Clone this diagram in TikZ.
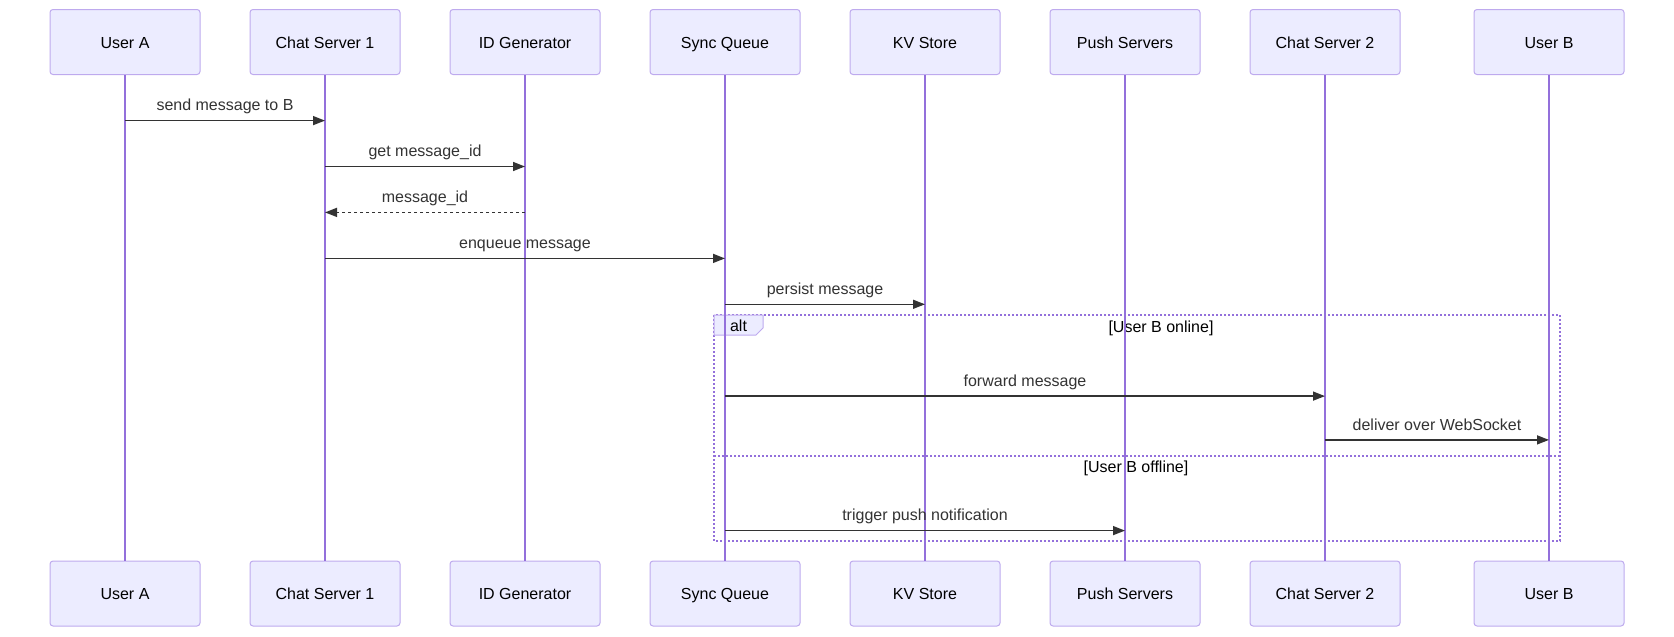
\documentclass[tikz,border=0pt]{standalone}
\usepackage{fontspec}
\setmainfont{Liberation Sans}
\usetikzlibrary{arrows.meta, positioning, calc}

\definecolor{actorfill}{RGB}{236,236,255}
\definecolor{actorline}{RGB}{190,170,238}
\definecolor{lifeline}{RGB}{147,112,219}
\definecolor{msgline}{RGB}{51,51,51}

\tikzset{
	actor/.style={draw=actorline, fill=actorfill, line width=1pt, rounded corners=3pt,
		minimum width=150pt, minimum height=65pt, inner sep=0pt,
		text height=14pt, text depth=1.5pt, font=\fontsize{16}{19}\selectfont},
	life/.style={draw=lifeline, line width=2pt},
	msg/.style={draw=msgline, line width=1.5pt, -{Triangle[length=12pt,width=9pt]}},
	reply/.style={msg, dash pattern=on 3pt off 3pt},
	msglabel/.style={above=5.5pt, inner sep=0pt, text height=12pt, text depth=3.5pt,
		text=msgline, font=\fontsize{16}{19}\selectfont},
	frame/.style={draw=lifeline, line width=1.5pt, dash pattern=on 2pt off 2pt},
	guard/.style={inner sep=0pt, text height=12pt, text depth=3.5pt,
		font=\fontsize{16}{19}\selectfont},
}

\begin{document}
\begin{tikzpicture}[x=1pt, y=-1pt]
		\useasboundingbox (0,0) rectangle (1674,637);

		% Actors (top)
		\node[actor] (ua) at (125,42) {User A};
		\node[actor] (cs1) at (325,42) {Chat Server 1};
		\node[actor] (idg) at (525,42) {ID Generator};
		\node[actor] (sq) at (725,42) {Sync Queue};
		\node[actor] (kv) at (925,42) {KV Store};
		\node[actor] (ps) at (1125,42) {Push Servers};
		\node[actor] (cs2) at (1325,42) {Chat Server 2};
		\node[actor] (ub) at (1549,42) {User B};

		% Actors (bottom)
		\node[actor] (ua2) at (125,593.5) {User A};
		\node[actor] (cs12) at (325,593.5) {Chat Server 1};
		\node[actor] (idg2) at (525,593.5) {ID Generator};
		\node[actor] (sq2) at (725,593.5) {Sync Queue};
		\node[actor] (kv2) at (925,593.5) {KV Store};
		\node[actor] (ps2) at (1125,593.5) {Push Servers};
		\node[actor] (cs22) at (1325,593.5) {Chat Server 2};
		\node[actor] (ub2) at (1549,593.5) {User B};

		% alt frame
		\coordinate (altnw) at (714,315);
		\coordinate (altse) at (1560,541);
		\draw[frame] (altnw) rectangle (altse);
		\draw[frame] (altnw |- 0,456) -- (altse |- 0,456);
		\draw[draw=actorline, fill=actorfill, line width=1pt]
			(altnw) -- ++(49,0) -- ++(0,13) -- ++(-7,7) -- ++(-42,0) -- cycle;
		\node[guard] (alt) at (738.5,327) {alt};
		\node[guard] (online) at (1161,328) {[User B online]};
		\node[guard] (offline) at (1136,468) {[User B offline]};

		% Lifelines
		\draw[life] (ua) -- (ua2);
		\draw[life] (cs1) -- (cs12);
		\draw[life] (idg) -- (idg2);
		\draw[life] (sq) -- (sq2);
		\draw[life] (kv) -- (kv2);
		\draw[life] (ps) -- (ps2);
		\draw[life] (cs2) -- (cs22);
		\draw[life] (ub) -- (ub2);

		% Messages
		\draw[msg] (ua |- 0,120.6) -- node[msglabel] {send message to B} (cs1 |- 0,120.6);
		\draw[msg] (cs1 |- 0,166.5) -- node[msglabel] {get message\_id} (idg |- 0,166.5);
		\draw[reply] (idg |- 0,212.4) -- node[msglabel] {message\_id} (cs1 |- 0,212.4);
		\draw[msg] (cs1 |- 0,258.4) -- node[msglabel] {enqueue message} (sq |- 0,258.4);
		\draw[msg] (sq |- 0,304.3) -- node[msglabel] {persist message} (kv |- 0,304.3);
		\draw[msg] (sq |- 0,396.1) -- node[msglabel] {forward message} (cs2 |- 0,396.1);
		\draw[msg] (cs2 |- 0,439.9) -- node[msglabel] {deliver over WebSocket} (ub |- 0,439.9);
		\draw[msg] (sq |- 0,530.6) -- node[msglabel] {trigger push notification} (ps |- 0,530.6);
	\end{tikzpicture}
\end{document}
